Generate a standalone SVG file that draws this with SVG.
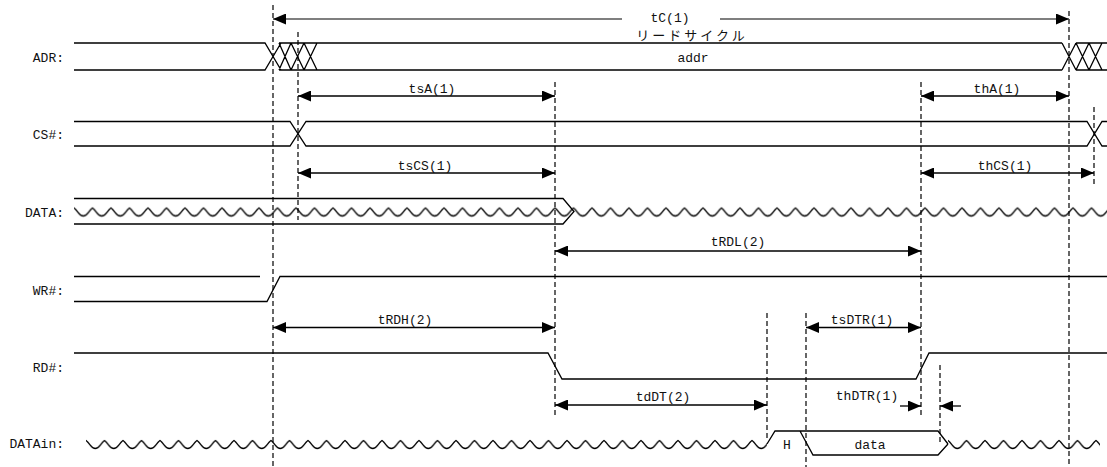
<svg xmlns="http://www.w3.org/2000/svg" width="1107" height="467" viewBox="0 0 1107 467">
<style>
.bg{fill:#fff}
.sig{fill:none;stroke:#000;stroke-width:1.3}
.dash{fill:none;stroke:#000;stroke-width:1.2;stroke-dasharray:5 3}
.arr{fill:none;stroke:#000;stroke-width:1.3;marker-end:url(#ah)}
.arr2{fill:none;stroke:#000;stroke-width:1.3;marker-start:url(#ah);marker-end:url(#ah)}
.tc{fill:none;stroke:#555;stroke-width:1.7}
.t{font-family:"Liberation Mono","DejaVu Sans Mono",monospace;font-size:13px;fill:#111}
.m{text-anchor:middle}
.e{text-anchor:end}
.jp{font-family:"Noto Sans CJK JP",sans-serif;font-size:13px;letter-spacing:3px;fill:#111;text-anchor:middle}
</style>
<defs>
<marker id="ah" viewBox="0 0 13 11" refX="13" refY="5.5" markerWidth="13" markerHeight="11" markerUnits="userSpaceOnUse" orient="auto-start-reverse">
<path d="M0,0 L13,5.5 L0,11 Z" fill="#000"/>
</marker>
<pattern id="wave" patternUnits="userSpaceOnUse" x="0" y="-8" width="18.5" height="16">
<path d="M-18.5,4.5 C-14,8 -13.5,12.5 -9.25,12.5 C-5,12.5 -4.5,8 0,4.5 C4.5,8 5,12.5 9.25,12.5 C13.5,12.5 14,8 18.5,4.5 C23,8 23.5,12.5 27.75,12.5 C32,12.5 32.5,8 37,4.5" fill="none" stroke="#000" stroke-width="1.3"/>
</pattern>
</defs>
<rect class="bg" x="0" y="0" width="1107" height="467"/>

<g id="ADR">
<text class="t e" x="64" y="62">ADR:</text>
<path class="sig" d="M74,43 H265 L281,70 M74,70 H265 L281,43 M279,43 H1062 M279,70 H1062 M279,43 L291,70 M279,70 L291,43 M291,43 L304,70 M291,70 L304,43 M304,43 L317,70 M304,70 L317,43 M1062,43 L1076,70 M1062,70 L1076,43 M1076,43 H1107 M1076,70 H1107 M1076,43 L1089,70 M1076,70 L1089,43 M1089,43 L1102,70 M1089,70 L1102,43"/>
<text class="t m" x="670" y="22">tC(1)</text>
<text class="jp" x="692" y="40">リードサイクル</text>
<text class="t m" x="693" y="62">addr</text>
</g>

<g id="CS">
<text class="t e" x="64" y="139">CS#:</text>
<path class="sig" d="M74,121.5 H290 L306,146 H1087 L1102,121.5 H1107 M74,146 H290 L306,121.5 H1087 L1102,146 H1107"/>
</g>

<g id="DATA">
<text class="t e" x="64" y="217">DATA:</text>
<path class="sig" d="M74,198.5 H563 L574,211.5 L563,224 H74"/>
<g transform="translate(74,211.5)"><rect x="0" y="-8" width="1033" height="16" fill="url(#wave)"/></g>
</g>

<g id="WR">
<text class="t e" x="64" y="295">WR#:</text>
<path class="sig" d="M74,276.5 H260 M74,301.5 H267 L280,276.5 H1107"/>
</g>

<g id="RD">
<text class="t e" x="64" y="372">RD#:</text>
<path class="sig" d="M74,353 H548 L562,379 H916 L929,353 H1107"/>
</g>

<g id="DATAin">
<text class="t e" x="64" y="448">DATAin:</text>
<g transform="translate(86,444)"><rect x="0" y="-8" width="681" height="16" fill="url(#wave)"/></g>
<g transform="translate(948,444)"><rect x="0" y="-8" width="152" height="16" fill="url(#wave)"/></g>
<path class="sig" d="M767,444 L775,431 H938 L948,444 M800,431 L813,455 H938 L948,444"/>
<text class="t m" x="787" y="449">H</text>
<text class="t m" x="870" y="449">data</text>
</g>

<g id="guides">
<path class="dash" d="M273,5 V467 M298,32 V220 M555,82 V418 M921,82 V418 M1069,11 V467 M1094,107 V185 M767,313 V440 M806,313 V467 M940,365 V443"/>
</g>

<g id="connectors">
<path class="tc" d="M273,19 H622" marker-start="url(#ah)"/>
<path class="tc" d="M720,19 H1069" marker-end="url(#ah)"/>
<path class="arr2" d="M298,96 H555"/>
<text class="t m" x="432" y="93">tsA(1)</text>
<path class="arr2" d="M921,96 H1069"/>
<text class="t m" x="997" y="93">thA(1)</text>
<path class="arr2" d="M298,173 H555"/>
<text class="t m" x="425" y="170">tsCS(1)</text>
<path class="arr2" d="M921,173 H1094"/>
<text class="t m" x="1005" y="170">thCS(1)</text>
<path class="arr2" d="M555,251 H921"/>
<text class="t m" x="738" y="246">tRDL(2)</text>
<path class="arr2" d="M273,327.5 H555"/>
<text class="t m" x="405" y="324">tRDH(2)</text>
<path class="arr2" d="M806,327.5 H921"/>
<text class="t m" x="862" y="324">tsDTR(1)</text>
<path class="arr2" d="M555,405 H767"/>
<text class="t m" x="663" y="401">tdDT(2)</text>
<path class="arr" d="M900,406 H921"/>
<path class="arr" d="M961,406 H940"/>
<text class="t m" x="867" y="400">thDTR(1)</text>
</g>
</svg>
